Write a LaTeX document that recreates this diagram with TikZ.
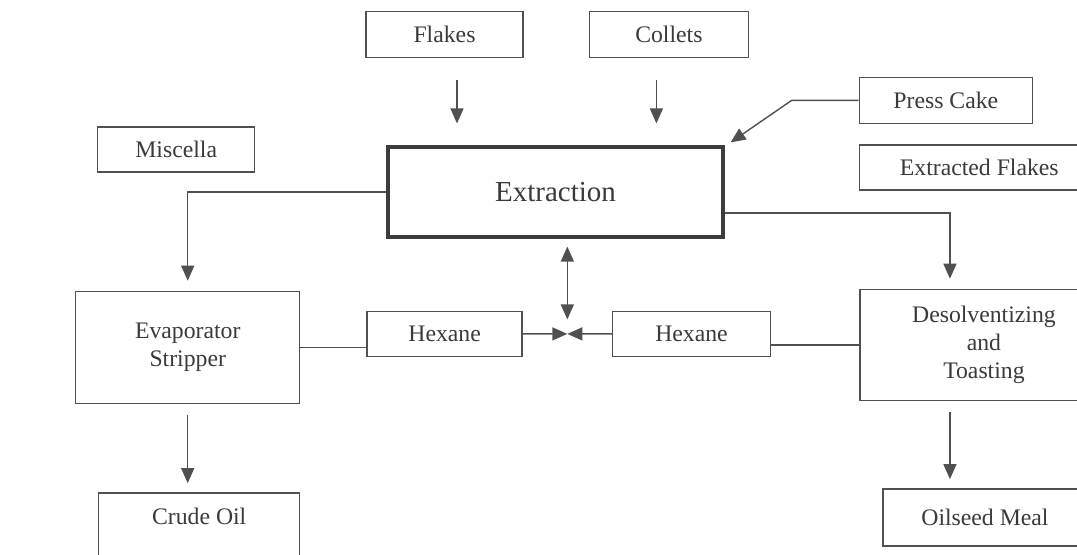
\documentclass[tikz,border=0pt]{standalone}
\usepackage{fontspec}
\setmainfont{Liberation Serif}
\usetikzlibrary{positioning,calc,arrows.meta}
\definecolor{inkgray}{RGB}{80,80,80}
\definecolor{txtgray}{RGB}{58,58,58}
\definecolor{framedark}{RGB}{60,60,60}

\begin{document}
\begin{tikzpicture}[
  font=\fontsize{13.5}{15.8}\selectfont,
  box/.style={rectangle, draw=inkgray, line width=0.8pt, text=txtgray,
              minimum height=0.92cm, align=center},
  mainbox/.style={rectangle, draw=framedark, line width=1.8pt, text=txtgray,
                  minimum width=6.7cm, minimum height=1.8cm,
                  font=\fontsize{16.5}{19}\selectfont},
  ar/.style={-{Triangle[width=0.26cm,length=0.3cm]}, line width=0.8pt, draw=inkgray},
  ar2/.style={{Triangle[width=0.26cm,length=0.3cm]}-{Triangle[width=0.26cm,length=0.3cm]},
              line width=0.8pt, draw=inkgray},
  ln/.style={line width=0.8pt, draw=inkgray}
]
\useasboundingbox (0,0) rectangle (21.54,-11.08);

% Centre: extraction
\node[mainbox] (extract) at (11.11,-3.84) {Extraction};

% Top row: feed materials
\node[box, minimum width=3.14cm, above=1.74cm of extract, xshift=-2.22cm] (flakes)  {Flakes};
\node[box, minimum width=3.18cm, right=1.3cm of flakes]                   (collets) {Collets};
\node[box, minimum width=3.46cm, right=2.68cm of extract.north east, anchor=west, yshift=0.9cm] (press) {Press Cake};
\node[box, minimum width=4.8cm, minimum height=0.9cm, below=0.4cm of press.south west, anchor=north west] (exfl) {Extracted Flakes};
\node[box, minimum width=3.14cm, minimum height=0.9cm, left=2.62cm of extract, yshift=0.85cm] (misc) {Miscella};

% Middle row: stripper, hexane, desolventizer
\node[box, minimum width=4.48cm, minimum height=2.24cm, below=2.36cm of misc, xshift=0.23cm] (evap) {Evaporator\\Stripper};
\node[box, minimum width=3.1cm, minimum height=0.9cm, right=1.32cm of evap, yshift=0.27cm] (hex1) {Hexane};
\node[box, minimum width=3.16cm, minimum height=0.9cm, right=1.78cm of hex1] (hex2) {Hexane};
\node[box, minimum width=4.96cm, minimum height=2.22cm, right=1.76cm of hex2, yshift=-0.22cm] (desolv) {Desolventizing\\and\\Toasting};

% Bottom row: products
\node[box, minimum width=4.02cm, text height=0.33cm, text depth=0.75cm, inner ysep=0.3cm,
      below=1.76cm of evap.south west, anchor=north west, xshift=0.46cm] (crude) {Crude Oil};
\node[box, minimum width=4.08cm, minimum height=1.14cm,
      below=1.74cm of desolv.south west, anchor=north west, xshift=0.46cm] (oil) {Oilseed Meal};

\coordinate (mix) at ($(hex1.east)!0.5!(hex2.west)$);

% Feeds into extraction
\draw[ar, shorten <=0.44cm, shorten >=0.44cm] ([xshift=0.25cm]flakes.south) -- ([xshift=0.25cm]flakes.south |- extract.north);
\draw[ar, shorten <=0.44cm, shorten >=0.44cm] ([xshift=-0.25cm]collets.south) -- ([xshift=-0.25cm]collets.south |- extract.north);
\draw[ar] (press.west) -- ++(-1.34cm,0) -- ([shift={(0.12cm,0.06cm)}]extract.north east);

% Extraction outputs
\draw[ar, shorten >=0.2cm] (extract.west) -| (evap.north);
\draw[ar, shorten >=0.2cm] ([yshift=-0.42cm]extract.east) -| ([xshift=-0.68cm]desolv.north);

% Solvent loop
\draw[ar2, shorten <=0.16cm, shorten >=0.29cm] (extract.south -| mix) -- (mix);
\draw[ar] (hex1.east) -- (mix);
\draw[ar] (hex2.west) -- (mix);
\draw[ln] (evap.east) -- (evap.east -| hex1.west);
\draw[ln] (hex2.east |- desolv.west) -- (desolv.west);

% Products
\draw[ar, shorten <=0.22cm, shorten >=0.18cm] (evap.south) -- (evap.south |- crude.north);
\draw[ar, shorten <=0.22cm, shorten >=0.18cm] ([xshift=-0.68cm]desolv.south) -- ([xshift=-0.68cm]desolv.south |- oil.north);
\end{tikzpicture}
\end{document}
